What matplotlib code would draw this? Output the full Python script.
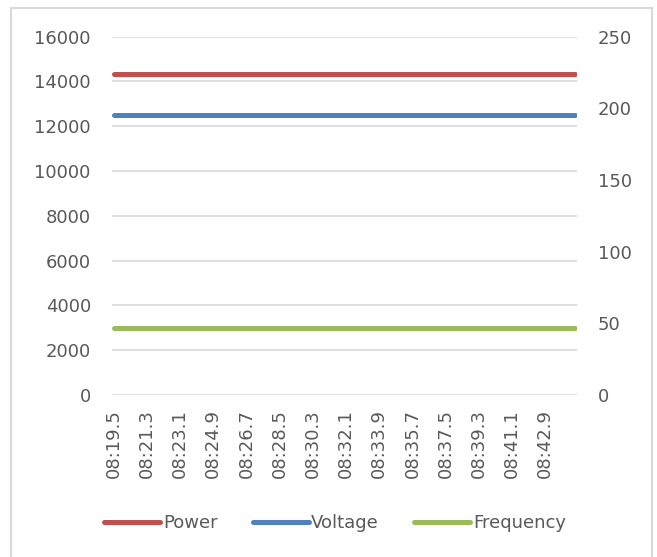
import matplotlib
matplotlib.use("Agg")
import matplotlib.pyplot as plt
from matplotlib.patches import Rectangle

# ---- data ----
n_points = 126
start_tenths = 195  # 08:19.5 in tenths of a second
categories = ["08:%04.1f" % ((start_tenths + 2 * i) / 10.0) for i in range(n_points)]
power_value = 14330      # left axis
voltage_value = 195.6    # right axis
frequency_value = 47.0   # right axis
power = [power_value] * n_points
voltage = [voltage_value] * n_points
frequency = [frequency_value] * n_points
tick_labels = ["08:19.5", "08:21.3", "08:23.1", "08:24.9", "08:26.7", "08:28.5", "08:30.3",
               "08:32.1", "08:33.9", "08:35.7", "08:37.5", "08:39.3", "08:41.1", "08:42.9"]
left_ticks = [0, 2000, 4000, 6000, 8000, 10000, 12000, 14000, 16000]
right_ticks = [0, 50, 100, 150, 200, 250]

plt.rcParams['font.family'] = ['DejaVu Sans']
TXT = '#595959'
GRID = '#d9d9d9'
FS = 13

fig = plt.figure(figsize=(6.57, 5.57), dpi=100)
fig.patches.append(Rectangle((11 / 657, -0.1), (652 - 11) / 657, 1 - 8 / 557 + 0.1,
                             transform=fig.transFigure, fill=False, edgecolor='#d9d9d9',
                             linewidth=1.5, zorder=0))

ax = fig.add_axes([111.7 / 657, 1 - 395 / 557, (576.7 - 111.7) / 657, (395 - 36.7) / 557])
ax2 = ax.twinx()

x = list(range(n_points))
lw = 3.6
l1, = ax.plot(x, power, color='#C0504D', lw=lw, solid_capstyle='round', label='Power', zorder=3)
l2, = ax2.plot(x, voltage, color='#4F81BD', lw=lw, solid_capstyle='round', label='Voltage', zorder=3)
l3, = ax2.plot(x, frequency, color='#9BBB59', lw=lw, solid_capstyle='round', label='Frequency', zorder=3)

ax.set_xlim(-0.5, n_points - 0.5)
ax.set_ylim(0, 16000)
ax2.set_ylim(0, 250)
ax.set_yticks(left_ticks)
ax2.set_yticks(right_ticks)
tick_pos = [categories.index(t) for t in tick_labels]
ax.set_xticks(tick_pos)
ax.set_xticklabels(tick_labels, rotation=90)

ax.grid(axis='y', color=GRID, lw=1.2)
ax.set_axisbelow(True)
for a in (ax, ax2):
    for s in a.spines.values():
        s.set_visible(False)
ax.tick_params(axis='y', length=0, pad=15, labelsize=FS, colors=TXT)
ax2.tick_params(axis='y', length=0, pad=15, labelsize=FS, colors=TXT)
ax.tick_params(axis='x', length=0, pad=10, labelsize=FS, colors=TXT)

leg = fig.legend(handles=[l1, l2, l3], loc='center', bbox_to_anchor=(335 / 657, 1 - 523 / 557),
                 ncol=3, frameon=False, fontsize=FS, handlelength=3.1, handletextpad=0.15,
                 columnspacing=1.95)
for t in leg.get_texts():
    t.set_color(TXT)

fig.savefig('out.png', dpi=100)
